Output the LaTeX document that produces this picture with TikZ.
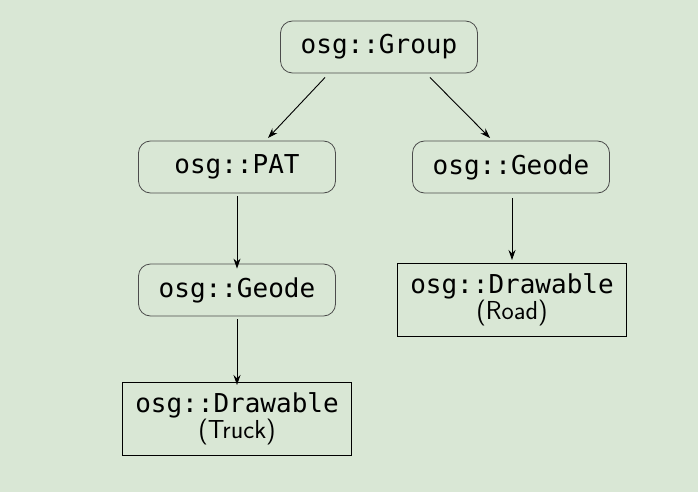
\documentclass[tikz,border=0pt]{standalone}
\usepackage{fontspec}
\setmonofont{DejaVu Sans Mono}
\usetikzlibrary{arrows.meta}
\definecolor{bg}{HTML}{D9E7D5}
\begin{document}
\begin{tikzpicture}[x=1pt,y=-1pt,
  rb/.style={draw=black!70,rounded corners=12pt,minimum width=197pt,minimum height=52pt,font=\ttfamily\fontsize{26}{30}\selectfont,line width=0.8pt},
  sb/.style={draw=black,minimum width=229pt,minimum height=73pt,font=\ttfamily\fontsize{26}{30}\selectfont,line width=1pt,align=center,inner sep=0pt},
  ar/.style={-{Stealth[length=10pt,width=7pt]},line width=0.9pt}]
\fill[bg] (0,0) rectangle (698,492);
\useasboundingbox (0,0) rectangle (698,492);
\node[rb] (g) at (379,47) {osg::Group};
\node[rb] (p) at (237,167) {osg::PAT};
\node[rb] (gr) at (511,167) {osg::Geode};
\node[rb] (gl) at (237,290) {osg::Geode};
\node[sb] (dr) at (512,300) {osg::Drawable\\[-4pt]{\sffamily (Road)}};
\node[sb] (dt) at (237,419) {osg::Drawable\\[-4pt]{\sffamily (Truck)}};
\draw[ar] (g.south west)++(45,4) -- (268,138);
\draw[ar] (g.south east)++(-48,4) -- (490,138);
\draw[ar] (p.south)++(0,3) -- ([yshift=-5pt]gl.north);
\draw[ar] (gr.south)++(1,5) -- (512,260);
\draw[ar] (gl.south)++(0,3) -- ([yshift=-3pt]dt.north);
\end{tikzpicture}
\end{document}
